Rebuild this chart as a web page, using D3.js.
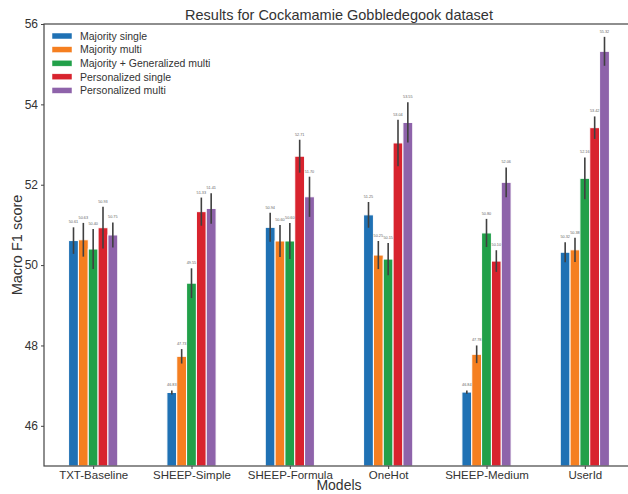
<!DOCTYPE html>
<html>
<head>
<meta charset="utf-8">
<script src="https://cdn.jsdelivr.net/npm/d3@7"></script>
<style>
  html, body { margin: 0; padding: 0; background: #fff; }
  svg { display: block; font-family: "Liberation Sans", Arial, sans-serif; }
</style>
</head>
<body>
<svg id="chart" width="628" height="494"></svg>
<script>
// Model variants along the x axis
const models = ["TXT-Baseline", "SHEEP-Simple", "SHEEP-Formula", "OneHot", "SHEEP-Medium", "UserId"];

// One entry per training setup (legend order)
const seriesNames = ["Majority single", "Majority multi", "Majority + Generalized multi", "Personalized single", "Personalized multi"];
const seriesColors = ["#1f71b4", "#f57f20", "#21a049", "#d8232e", "#8e63aa"];

// Macro F1 per series, one value per model
const majoritySingle      = [50.61, 46.83, 50.94, 51.25, 46.84, 50.32];
const majorityMulti       = [50.63, 47.73, 50.60, 50.25, 47.78, 50.38];
const majorityGenMulti    = [50.40, 49.55, 50.60, 50.15, 50.80, 52.16];
const personalizedSingle  = [50.93, 51.33, 52.71, 53.04, 50.10, 53.42];
const personalizedMulti   = [50.75, 51.41, 51.70, 53.55, 52.06, 55.32];

// Error bar half-widths (std) in the same layout
const errMajoritySingle     = [0.33, 0.05, 0.36, 0.32, 0.04, 0.25];
const errMajorityMulti      = [0.42, 0.18, 0.40, 0.35, 0.22, 0.30];
const errMajorityGenMulti   = [0.50, 0.37, 0.45, 0.40, 0.35, 0.52];
const errPersonalizedSingle = [0.52, 0.35, 0.41, 0.58, 0.27, 0.28];
const errPersonalizedMulti  = [0.31, 0.38, 0.50, 0.50, 0.37, 0.36];

const yTicks = [46, 48, 50, 52, 54, 56];

const values = [majoritySingle, majorityMulti, majorityGenMulti, personalizedSingle, personalizedMulti];
const errors = [errMajoritySingle, errMajorityMulti, errMajorityGenMulti, errPersonalizedSingle, errPersonalizedMulti];

const W = 628, H = 494;
const margin = { left: 44, right: -6, top: 24, bottom: 28 };
const svg = d3.select("#chart");

const x = d3.scaleLinear()
  .domain([-0.5, models.length - 0.5])
  .range([margin.left, W - margin.right]);
const y = d3.scaleLinear()
  .domain([45, 56])
  .range([H - margin.bottom, margin.top]);

const barW = 0.1;
const textColor = "#333";

// Flatten the series into bar records
const bars = [];
values.forEach((vals, s) => {
  vals.forEach((v, i) => {
    bars.push({ s, i, v, e: errors[s][i], xc: i + (s - 2) * barW });
  });
});

const g = svg.append("g");

// Bars
g.selectAll("rect.bar").data(bars).enter().append("rect")
  .attr("class", "bar")
  .attr("x", d => x(d.xc - barW / 2))
  .attr("width", d => x(d.xc + barW / 2) - x(d.xc - barW / 2))
  .attr("y", d => y(d.v))
  .attr("height", d => y(45) - y(d.v))
  .attr("fill", d => seriesColors[d.s])
  .attr("stroke", "#fff")
  .attr("stroke-width", 1);

// Error bars
g.selectAll("line.err").data(bars).enter().append("line")
  .attr("class", "err")
  .attr("x1", d => x(d.xc)).attr("x2", d => x(d.xc))
  .attr("y1", d => y(d.v - d.e)).attr("y2", d => y(d.v + d.e))
  .attr("stroke", "#404040")
  .attr("stroke-width", 1.6);

// Value labels above each error bar
g.selectAll("text.val").data(bars).enter().append("text")
  .attr("class", "val")
  .attr("x", d => x(d.xc))
  .attr("y", d => y(d.v + d.e) - 4)
  .attr("text-anchor", "middle")
  .attr("font-size", 3.8)
  .attr("fill", "#666")
  .text(d => d.v.toFixed(2));

// Frame (all four spines)
svg.append("rect")
  .attr("x", margin.left)
  .attr("y", margin.top)
  .attr("width", (W - margin.right) - margin.left)
  .attr("height", (H - margin.bottom) - margin.top)
  .attr("fill", "none")
  .attr("stroke", "#444")
  .attr("stroke-width", 1.2);

// Y axis
const yAxis = svg.append("g")
  .attr("transform", `translate(${margin.left},0)`)
  .call(d3.axisLeft(y).tickValues(yTicks).tickSize(3).tickPadding(3).tickFormat(d3.format("d")));
yAxis.select(".domain").remove();
yAxis.selectAll("line").attr("stroke", "#444");
yAxis.selectAll("text").attr("font-size", 12).attr("fill", textColor)
  .attr("font-family", "Liberation Sans, Arial, sans-serif");

// X axis
const xAxis = svg.append("g")
  .attr("transform", `translate(0,${H - margin.bottom})`)
  .call(d3.axisBottom(x).tickValues(d3.range(models.length)).tickSize(3).tickPadding(2).tickFormat(i => models[i]));
xAxis.select(".domain").remove();
xAxis.selectAll("line").attr("stroke", "#444");
xAxis.selectAll("text").attr("font-size", 11.5).attr("fill", textColor)
  .attr("font-family", "Liberation Sans, Arial, sans-serif");

const plotCx = (margin.left + W - margin.right) / 2;

// Title
svg.append("text")
  .attr("x", plotCx).attr("y", 20)
  .attr("text-anchor", "middle")
  .attr("font-size", 14.5)
  .attr("fill", textColor)
  .text("Results for Cockamamie Gobbledegook dataset");

// Axis titles
svg.append("text")
  .attr("x", plotCx).attr("y", 490)
  .attr("text-anchor", "middle")
  .attr("font-size", 14)
  .attr("fill", textColor)
  .text("Models");

svg.append("text")
  .attr("transform", `translate(22,${(margin.top + H - margin.bottom) / 2}) rotate(-90)`)
  .attr("text-anchor", "middle")
  .attr("font-size", 14.5)
  .attr("fill", textColor)
  .text("Macro F1 score");

// Legend
const legend = svg.append("g").attr("transform", "translate(52,36)");
seriesNames.forEach((name, s) => {
  const row = legend.append("g").attr("transform", `translate(0,${s * 13.6})`);
  row.append("rect")
    .attr("x", 0).attr("y", -3)
    .attr("width", 20).attr("height", 6)
    .attr("fill", seriesColors[s])
    .attr("stroke", "#fff").attr("stroke-width", 0.5);
  row.append("text")
    .attr("x", 28).attr("y", 3.8)
    .attr("font-size", 10.5)
    .attr("fill", textColor)
    .text(name);
});
</script>
</body>
</html>
